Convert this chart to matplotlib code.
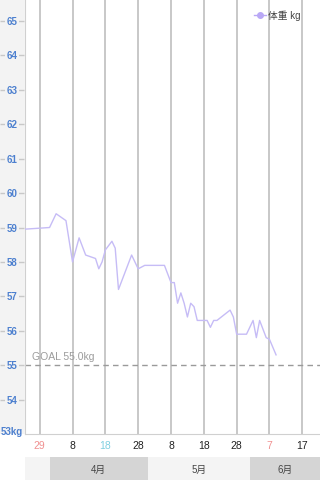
import numpy as np
import pandas as pd
import matplotlib
matplotlib.use('Agg')
import matplotlib.pyplot as plt
import matplotlib.dates as mdates
from matplotlib.lines import Line2D

plt.rcParams['font.family'] = ['Liberation Sans', 'Noto Sans CJK JP']

# 体重データ
dates = ['2020-03-21', '2020-04-01', '2020-04-03', '2020-04-06', '2020-04-08',
         '2020-04-10', '2020-04-12', '2020-04-15', '2020-04-16', '2020-04-17',
         '2020-04-18', '2020-04-20', '2020-04-21', '2020-04-22', '2020-04-26',
         '2020-04-28', '2020-04-30', '2020-05-06', '2020-05-08', '2020-05-09',
         '2020-05-10', '2020-05-11', '2020-05-12', '2020-05-13', '2020-05-14',
         '2020-05-15', '2020-05-16', '2020-05-19', '2020-05-20', '2020-05-21',
         '2020-05-22', '2020-05-26', '2020-05-27', '2020-05-28', '2020-05-31',
         '2020-06-02', '2020-06-03', '2020-06-04', '2020-06-06', '2020-06-07',
         '2020-06-09']
weights = [58.93, 59.0, 59.4, 59.2, 58.0,
           58.7, 58.2, 58.1, 57.8, 58.0,
           58.35, 58.6, 58.4, 57.2, 58.2,
           57.8, 57.9, 57.9, 57.4, 57.4,
           56.8, 57.1, 56.8, 56.4, 56.8,
           56.7, 56.3, 56.3, 56.1, 56.3,
           56.3, 56.6, 56.4, 55.9, 55.9,
           56.3, 55.8, 56.3, 55.8, 55.75,
           55.3]
goal = 55.0

x_ticks = ['2020-03-29', '2020-04-08', '2020-04-18', '2020-04-28', '2020-05-08',
           '2020-05-18', '2020-05-28', '2020-06-07', '2020-06-17']
x_tick_labels = ['29', '8', '18', '28', '8', '18', '28', '7', '17']
x_tick_colors = ['#f09090', '#222222', '#80d0e0', '#222222', '#222222',
                 '#222222', '#222222', '#f09090', '#222222']
y_ticks = list(range(53, 66))
y_tick_labels = ['53kg'] + [str(v) for v in range(54, 66)]
months = ['4月', '5月', '6月']
month_starts = ['2020-04-01', '2020-05-01', '2020-06-01', '2020-07-01']

W, H = 320, 481
fig = plt.figure(figsize=(W / 100, H / 100), dpi=100)
fig.patch.set_facecolor('white')
x0 = 25 / W
y_bot = (H - 435) / H

d = mdates.date2num(pd.to_datetime(dates))
xt = mdates.date2num(pd.to_datetime(x_ticks))
base = xt[0]
xlim = (base - 4.48, base + 85.39)
ylim = (53, 65.64)

# メインのグラフ
ax = fig.add_axes([x0, y_bot, 1 - x0, 1 - y_bot])
ax.set_xlim(xlim)
ax.set_ylim(ylim)
for t in xt:
    ax.axvline(t, color='#c4c4c4', lw=1.3, zorder=1)
ax.axhline(goal, color='#9a9a9a', lw=1, dashes=(4, 3), zorder=2)
ax.text((32 - 25) / (W - 25), goal + 0.12, 'GOAL %.1fkg' % goal,
        transform=ax.get_yaxis_transform(), color='#9c9c9c', fontsize=7.5, va='bottom')
ax.plot(d, weights, color='#c6bcf6', lw=1, zorder=3)

handle = Line2D([], [], color='#b9a8f6', lw=1, marker='o', markersize=4)
ax.legend([handle], ['体重 kg'], loc='upper right', frameon=False, fontsize=7,
          bbox_to_anchor=((304 - 25) / (W - 25), 1 - 7 / 435), borderaxespad=0,
          handlelength=1.2, handletextpad=0.2, labelcolor='#444444')

ax.set_yticks([])
ax.set_xticks(xt)
ax.set_xticklabels(x_tick_labels, fontsize=7.5)
for lab, c in zip(ax.get_xticklabels(), x_tick_colors):
    lab.set_color(c)
ax.tick_params(axis='x', length=0, pad=4)
for s in ['top', 'right']:
    ax.spines[s].set_visible(False)
ax.spines['bottom'].set_color('#d0d0d0')
ax.spines['left'].set_color('#d0d0d0')

# 縦軸パネル
ay = fig.add_axes([0, y_bot, x0, 1 - y_bot])
ay.set_facecolor('#f3f3f3')
ay.set_xlim(0, 25)
ay.set_ylim(ylim)
ay.set_xticks([])
ay.set_yticks([])
for s in ay.spines.values():
    s.set_visible(False)
for v, lab in zip(y_ticks, y_tick_labels):
    if v > 53:
        ay.hlines(v, 0, 23.5, color='#c8c8c8', lw=1)
        ay.text(12, v, lab, ha='center', va='center', fontsize=7, fontweight='bold',
                color='#4d80cf', bbox=dict(facecolor='#f3f3f3', edgecolor='none', pad=1))
    else:
        ay.text(12, v + 0.1, lab, ha='center', va='center', fontsize=7, fontweight='bold',
                color='#4d80cf')

# 月の帯
am = fig.add_axes([x0, 0, 1 - x0, 23 / H])
am.set_xlim(xlim)
am.set_ylim(0, 1)
am.set_facecolor('#f4f4f4')
am.set_xticks([])
am.set_yticks([])
for s in am.spines.values():
    s.set_visible(False)
ms = mdates.date2num(pd.to_datetime(month_starts))
for i, m in enumerate(months):
    a, b = ms[i], ms[i + 1]
    if i % 2 == 0:
        am.axvspan(a, b, color='#d5d5d5', lw=0)
    cx = (max(a, xlim[0]) + min(b, xlim[1])) / 2
    am.text(cx, 0.5, m, ha='center', va='center', fontsize=7, color='#444444')

fig.savefig('out.png', dpi=100)
